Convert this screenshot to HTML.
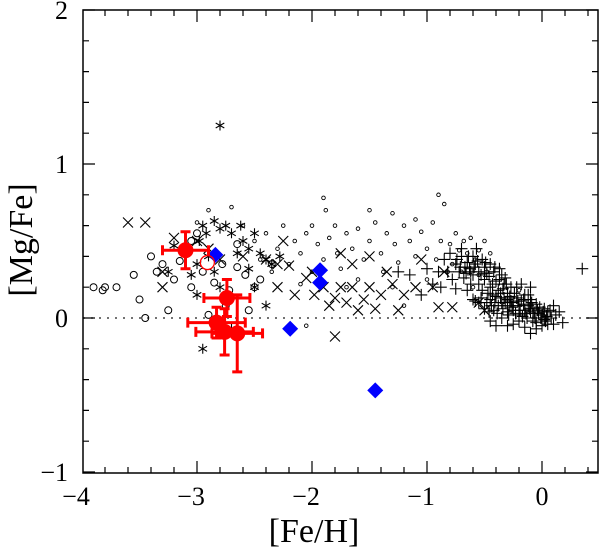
<!DOCTYPE html>
<html><head><meta charset="utf-8"><style>
html,body{margin:0;padding:0;background:#fff;}
svg text{font-family:"Liberation Serif",serif;fill:#000;}
</style></head><body>
<svg id="chart" width="600" height="551" viewBox="0 0 600 551" xmlns="http://www.w3.org/2000/svg">
<g id="marks"></g>
<g id="axes"></g>
<text x="314" y="542" font-size="34" text-anchor="middle">[Fe/H]</text>
<text x="0" y="0" font-size="34" text-anchor="middle" transform="translate(32,240) rotate(-90)">[Mg/Fe]</text>
</svg>
<script>
const xTicks=[-4,-3,-2,-1,0];
const yTicks=[-1,0,1,2];
const tickLabelsX=["\u22124","\u22123","\u22122","\u22121","0"];
const tickLabelsY=["\u22121","0","1","2"];
const plusPts=[[-0.9,0.3],[-0.85,0.38],[-0.8,0.42],[-0.75,0.35],[-0.72,0.3],[-0.7,0.4],[-0.68,0.26],[-0.65,0.36],[-0.63,0.32],[-0.6,0.28],[-0.6,0.4],[-0.58,0.35],[-0.55,0.3],[-0.55,0.22],[-0.52,0.38],[-0.5,0.33],[-0.5,0.25],[-0.48,0.29],[-0.45,0.35],[-0.45,0.2],[-0.42,0.3],[-0.4,0.24],[-0.4,0.14],[-0.38,0.18],[-0.35,0.28],[-0.35,0.1],[-0.33,0.22],[-0.3,0.12],[-0.3,0.16],[-0.28,0.08],[-0.27,0.2],[-0.25,0.1],[-0.25,0.05],[-0.22,0.13],[-0.2,0.08],[-0.2,0.02],[-0.18,0.11],[-0.15,0.05],[-0.15,0.15],[-0.13,0.0],[-0.12,0.08],[-0.1,0.04],[-0.1,0.12],[-0.08,0.06],[-0.06,0.0],[-0.05,0.09],[-0.03,0.03],[-0.02,0.07],[0.0,0.02],[0.02,0.06],[0.03,-0.02],[0.05,0.04],[0.08,0.0],[0.1,0.08],[0.12,0.02],[0.15,0.04],[-0.6,0.12],[-0.55,0.1],[-0.5,0.06],[-0.45,0.12],[-0.42,0.05],[-0.38,0.08],[-0.35,0.0],[-0.3,0.04],[-0.25,-0.04],[-0.2,-0.02],[-0.15,-0.06],[-0.1,-0.1],[-0.05,-0.03],[0.0,-0.05],[-0.7,0.45],[-0.78,0.25],[-0.95,0.22],[-1.0,0.32],[-1.05,0.15],[-0.88,0.2],[-0.65,0.18],[-0.57,0.45],[-0.47,0.16],[-0.37,0.32],[-0.32,0.26],[-0.22,0.2],[-0.18,0.22],[0.18,-0.03],[0.05,-0.04],[0.35,0.32],[-0.1,0.2],[-1.15,0.28],[-1.25,0.3],[-0.82,0.3],[-0.75,0.19],[-0.62,0.22],[-0.52,0.18],[-0.44,0.08],[-0.28,0.14],[-0.12,0.15],[-0.08,-0.02],[0.1,-0.04],
[-0.58,0.11],[-0.53,0.13],[-0.48,0.1],[-0.46,0.04],[-0.43,0.15],[-0.41,0.1],[-0.39,0.03],[-0.36,0.13],[-0.34,0.06],[-0.32,0.1],[-0.29,0.02],[-0.27,0.11],[-0.26,0.07],[-0.23,0.03],[-0.21,0.11],[-0.19,0.05],[-0.17,0.01],[-0.16,0.09],[-0.14,0.03],[-0.11,0.06],[-0.09,0.1],[-0.07,0.03],[-0.04,0.05],[-0.01,0.0],[0.01,0.04],[0.04,0.01],[0.07,0.05],[-0.67,0.33],[-0.64,0.4],[-0.62,0.3],[-0.59,0.33],[-0.56,0.37],[-0.53,0.28],[-0.49,0.36],[-0.46,0.27],[-0.43,0.22],[-0.41,0.33],[-0.37,0.25],[-0.34,0.19],[-0.31,0.22],[-0.74,0.38],[-0.71,0.33],[-0.66,0.29],[-0.36,0.16],[-0.33,0.13],[-0.24,0.16],[-0.16,0.12],[-0.45,-0.02],[-0.4,-0.05],[-0.3,-0.05],[-0.05,-0.07],[0.02,-0.01]];
const smallCircPts=[[-2.5,0.5],[-2.4,0.55],[-2.3,0.45],[-2.25,0.6],[-2.2,0.35],[-2.15,0.5],[-2.1,0.42],[-2.05,0.55],[-2.0,0.3],[-1.95,0.48],[-1.9,0.38],[-1.88,0.7],[-1.85,0.52],[-1.8,0.6],[-1.78,0.42],[-1.75,0.32],[-1.7,0.55],[-1.65,0.45],[-1.6,0.58],[-1.55,0.38],[-1.5,0.5],[-1.45,0.62],[-1.4,0.42],[-1.38,0.3],[-1.35,0.55],[-1.3,0.68],[-1.28,0.48],[-1.25,0.36],[-1.2,0.6],[-1.15,0.5],[-1.1,0.4],[-1.05,0.56],[-1.0,0.45],[-0.95,0.62],[-0.92,0.38],[-0.88,0.5],[-0.85,0.74],[-0.82,0.3],[-0.8,0.48],[-0.78,0.35],[-0.75,0.55],[-0.72,0.44],[-0.7,0.3],[-0.68,0.5],[-0.65,0.42],[-0.62,0.52],[-0.6,0.2],[-0.58,0.38],[-0.55,0.44],[-0.5,0.5],[-0.48,0.3],[-0.45,0.42],[-1.9,0.78],[-2.7,0.72],[-2.9,0.7],[-3.0,0.62],[-2.6,0.6],[-1.2,0.08],[-2.05,-0.05],[-2.1,0.22],[-1.6,0.25],[-1.0,0.25],[-0.55,0.28],[-0.2,0.18],[-2.35,0.3],[-2.45,0.38],[-1.7,0.2],[-1.3,0.2],[-2.0,0.6],[-1.5,0.7],[-1.1,0.64],[-0.9,0.8]];
const crossPts=[[-3.6,0.62],[-3.45,0.62],[-3.3,0.3],[-3.2,0.52],[-3.3,0.2],[-3.0,0.5],[-2.9,0.45],[-2.8,0.38],[-2.6,0.4],[-2.4,0.38],[-2.3,0.35],[-2.3,0.2],[-2.2,0.34],[-2.15,0.15],[-2.05,0.26],[-2.0,0.3],[-1.98,0.15],[-1.9,0.2],[-1.85,0.08],[-1.8,0.13],[-1.75,0.2],[-1.7,0.1],[-1.65,0.2],[-1.6,0.05],[-1.55,0.12],[-1.5,0.2],[-1.45,0.06],[-1.4,0.15],[-1.35,0.3],[-1.3,0.22],[-1.2,0.15],[-1.1,0.2],[-0.95,0.2],[-0.9,0.07],[-0.78,0.07],[-1.8,-0.12],[-1.75,0.42],[-1.65,0.35],[-2.25,0.5],[-1.5,0.4],[-1.25,0.05],[-0.85,0.3],[-1.05,0.38],[-0.55,0.1],[-0.5,0.05]];
const asterPts=[[-3.2,0.47],[-3.05,0.28],[-3.0,0.35],[-2.95,0.6],[-2.92,0.55],[-2.85,0.63],[-2.8,0.58],[-2.75,0.6],[-2.7,0.55],[-2.9,0.4],[-2.85,0.3],[-2.8,0.2],[-2.65,0.42],[-2.6,0.5],[-2.55,0.45],[-2.5,0.55],[-2.45,0.42],[-2.4,0.38],[-2.35,0.35],[-2.28,0.4],[-3.0,0.15],[-2.5,0.2],[-2.7,-0.07],[-2.95,-0.2],[-2.8,1.25],[-3.25,0.3],[-2.4,0.08],[-2.55,0.32],[-2.62,0.6],[-2.98,0.5]];
const bigCircPts=[[-3.9,0.2],[-3.82,0.18],[-3.8,0.2],[-3.5,0.12],[-3.45,0.0],[-3.4,0.4],[-3.35,0.3],[-3.3,0.35],[-3.2,0.25],[-3.15,0.37],[-3.05,0.5],[-2.95,0.3],[-2.85,0.23],[-2.78,0.35],[-2.72,0.18],[-2.65,0.33],[-2.58,0.28],[-2.5,0.2],[-2.45,0.25],[-2.55,0.05],[-3.25,0.05],[-2.9,0.02],[-3.05,0.2],[-3.55,0.28],[-3.7,0.2],[-3.1,0.42],[-2.35,0.35],[-2.65,0.48],[-2.75,0.08],[-3.0,0.55]];
const redPts=[[-3.1,0.44,0.2,0.12],[-2.74,0.13,0.2,0.12],[-2.83,-0.03,0.25,0.1],[-2.76,-0.09,0.25,0.15],[-2.65,-0.1,0.22,0.25]];
const redOpen=[[-2.91,0.36]];
const bluePts=[[-2.84,0.41],[-2.19,-0.07],[-1.93,0.31],[-1.93,0.23],[-1.45,-0.47]];

const X0=83,X1=598,Y0=10,Y1=473;
const sx=v=>542+115*v;
const sy=v=>318-154*v;
const NS="http://www.w3.org/2000/svg";
const marks=document.getElementById('marks');
const axes=document.getElementById('axes');
function mk(tag,attrs,parent){const e=document.createElementNS(NS,tag);for(const k in attrs)e.setAttribute(k,attrs[k]);parent.appendChild(e);return e;}

let zl=mk('line',{x1:X0,x2:X1,y1:sy(0),y2:sy(0),stroke:'#444','stroke-width':1.5,'stroke-dasharray':'2,6'},marks);



plusPts.forEach(p=>{const x=sx(p[0]),y=sy(p[1]);
 const e=mk('path',{d:`M${x-6},${y}H${x+6}M${x},${y-6}V${y+6}`,stroke:'#000','stroke-width':1.1,fill:'none'},marks);
 
 });
smallCircPts.forEach(p=>{
 const e=mk('circle',{cx:sx(p[0]),cy:sy(p[1]),r:1.8,stroke:'#000','stroke-width':0.9,fill:'none'},marks);
 
 });
crossPts.forEach(p=>{const x=sx(p[0]),y=sy(p[1]);
 const e=mk('path',{d:`M${x-5},${y-5}L${x+5},${y+5}M${x-5},${y+5}L${x+5},${y-5}`,stroke:'#000','stroke-width':1.1,fill:'none'},marks);
 
 });
asterPts.forEach(p=>{const x=sx(p[0]),y=sy(p[1]);
 const e=mk('path',{d:`M${x},${y-5}V${y+5}M${x-4.3},${y-2.5}L${x+4.3},${y+2.5}M${x-4.3},${y+2.5}L${x+4.3},${y-2.5}`,stroke:'#000','stroke-width':1.1,fill:'none'},marks);
 
 });
bigCircPts.forEach(p=>{
 const e=mk('circle',{cx:sx(p[0]),cy:sy(p[1]),r:3.5,stroke:'#000','stroke-width':1,fill:'none'},marks);
 
 });
bluePts.forEach(p=>{const x=sx(p[0]),y=sy(p[1]);
 const e=mk('path',{d:`M${x},${y-8}L${x+8},${y}L${x},${y+8}L${x-8},${y}Z`,fill:'#0000ff'},marks);
 
 });
redOpen.forEach(p=>{
 const e=mk('circle',{cx:sx(p[0]),cy:sy(p[1]),r:7,stroke:'#f00','stroke-width':1.3,fill:'none'},marks);
 
 });
redPts.forEach(p=>{const x=sx(p[0]),y=sy(p[1]);
 const xa=sx(p[0]-p[2]),xb=sx(p[0]+p[2]),ya=sy(p[1]+p[3]),yb=sy(p[1]-p[3]);
 const g=mk('g',{},marks);
 
 
 mk('path',{d:`M${xa},${y}H${xb}M${x},${ya}V${yb}M${xa},${y-5}V${y+5}M${xb},${y-5}V${y+5}M${x-5},${ya}H${x+5}M${x-5},${yb}H${x+5}`,stroke:'#f00','stroke-width':3,fill:'none'},g);
 mk('circle',{cx:x,cy:y,r:8,fill:'#f00'},g);});

let fr=mk('rect',{x:X0,y:Y0,width:X1-X0,height:Y1-Y0,fill:'none',stroke:'#000','stroke-width':1.5},axes);


let tp='';
for(let i=0;i<=22;i++){const v=-4+i*0.2;const x=sx(v);if(x<X0-0.5||x>X1+0.5)continue;
 const maj=Math.abs(v-Math.round(v))<1e-6;const L=maj?12:6;
 tp+=`M${x},${Y1}V${Y1-L}M${x},${Y0}V${Y0+L}`;}
for(let i=0;i<=15;i++){const v=-1+i*0.2;const y=sy(v);
 const maj=Math.abs(v-Math.round(v))<1e-6;const L=maj?12:6;
 tp+=`M${X0},${y}H${X0+L}M${X1},${y}H${X1-L}`;}
let tk=mk('path',{d:tp,stroke:'#000','stroke-width':1.2,fill:'none'},axes);


xTicks.forEach((v,i)=>{const t=mk('text',{x:sx(v)-(v<0?6:0),y:505,'font-size':26,'text-anchor':'middle'},axes);t.textContent=tickLabelsX[i];
 
 });
yTicks.forEach((v,i)=>{const t=mk('text',{x:68,y:sy(v)+9,'font-size':26,'text-anchor':'end'},axes);t.textContent=tickLabelsY[i];
 
 });
</script>
</body></html>
